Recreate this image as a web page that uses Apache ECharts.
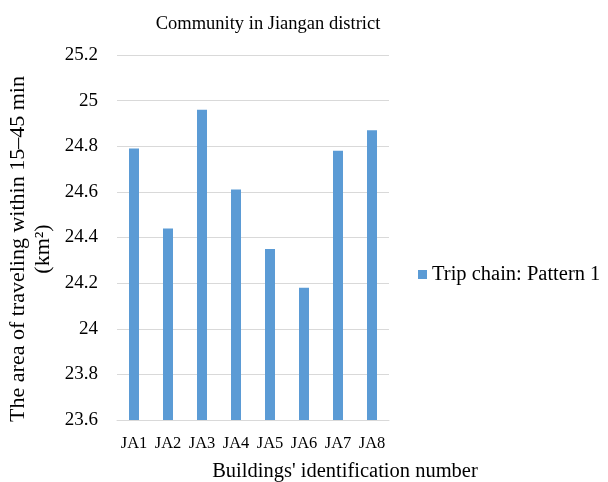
<!DOCTYPE html>
<html>
<head>
<meta charset="utf-8">
<script src="https://cdn.jsdelivr.net/npm/echarts@6/dist/echarts.min.js"></script>
<style>
  html, body { margin: 0; padding: 0; background: #fff; }
  #main { width: 608px; height: 482px; }
</style>
</head>
<body>
<div id="main"></div>
<script>
// data
const categories = ['JA1', 'JA2', 'JA3', 'JA4', 'JA5', 'JA6', 'JA7', 'JA8'];
const pattern1 = [24.79, 24.44, 24.96, 24.61, 24.35, 24.18, 24.78, 24.87];
const seriesName = 'Trip chain: Pattern 1';
const yMin = 23.6, yMax = 25.2, yStep = 0.2;

const font = '"Liberation Serif", "Times New Roman", serif';
const chart = echarts.init(document.getElementById('main'));

const option = {
  backgroundColor: '#fff',
  animation: false,
  textStyle: { fontFamily: font },
  title: [
    {
      text: 'Community in Jiangan district',
      left: 263, top: 10, textAlign: 'center',
      textStyle: { fontFamily: font, fontSize: 18.5, fontWeight: 'normal', color: '#000' }
    },
    {
      text: "Buildings' identification number",
      left: 340, top: 456, textAlign: 'center',
      textStyle: { fontFamily: font, fontSize: 20.5, fontWeight: 'normal', color: '#000' }
    }
  ],
  graphic: [
    {
      type: 'text',
      x: 31, y: 249, rotation: Math.PI / 2,
      style: {
        text: 'The area of traveling within 15\u201345 min\n(km\u00B2)',
        font: '22px ' + font,
        fill: '#000',
        align: 'center',
        verticalAlign: 'middle',
        lineHeight: 25
      }
    }
  ],
  legend: {
    data: [seriesName],
    left: 413, top: 259,
    icon: 'rect', itemWidth: 9, itemHeight: 9, itemGap: 6,
    textStyle: { fontFamily: font, fontSize: 20.5, color: '#000' }
  },
  grid: { left: 117, right: 219, top: 55, bottom: 62 },
  xAxis: {
    type: 'category',
    data: categories,
    axisTick: { show: false },
    axisLine: { lineStyle: { color: '#d9d9d9', width: 1 } },
    axisLabel: { fontFamily: font, fontSize: 16.5, color: '#000', margin: 15, interval: 0 }
  },
  yAxis: {
    type: 'value',
    min: yMin, max: yMax, interval: yStep,
    axisLine: { show: false },
    axisTick: { show: false },
    splitLine: { lineStyle: { color: '#d9d9d9', width: 1 } },
    axisLabel: { fontFamily: font, fontSize: 19, color: '#000', margin: 19 }
  },
  series: [
    {
      name: seriesName,
      type: 'bar',
      data: pattern1,
      barWidth: 10,
      itemStyle: { color: '#5b9bd5' }
    }
  ]
};

chart.setOption(option);
</script>
</body>
</html>
